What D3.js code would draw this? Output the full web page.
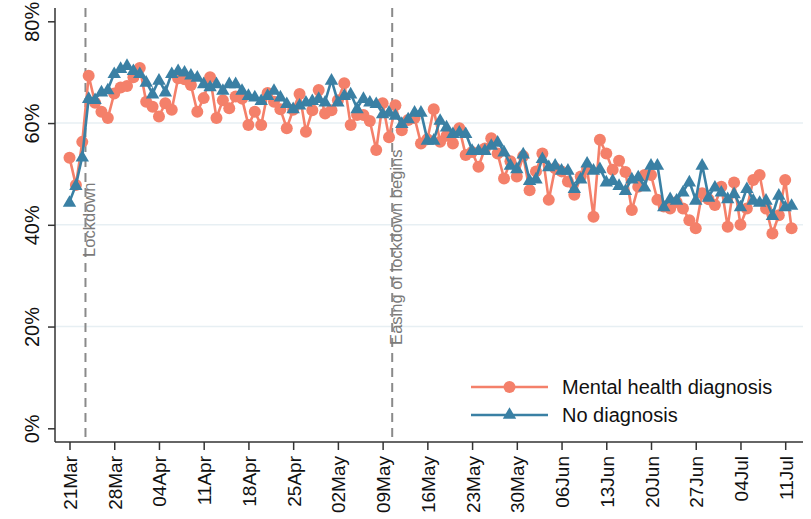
<!DOCTYPE html>
<html>
<head>
<meta charset="utf-8">
<script src="https://cdn.jsdelivr.net/npm/d3@7"></script>
<style>
  body { margin: 0; background: #fff; }
  svg { display: block; font-family: "Liberation Sans", Arial, sans-serif; }
</style>
</head>
<body>
<div id="chart"></div>
<script>
// daily series, starting 21 Mar 2020 (percent)
const startDate = "2020-03-21"
const mentalHealth = [
  53.2, 47.8, 56.3, 69.3, 64.0, 62.2, 61.0, 65.8, 67.0, 67.3,
  69.0, 70.8, 64.2, 63.2, 61.3, 63.9, 62.6, 68.8, 68.6, 67.5,
  62.2, 64.9, 69.0, 61.0, 64.5, 62.9, 65.2, 64.8, 59.6, 62.2,
  59.6, 65.9, 64.2, 62.7, 59.0, 62.6, 65.7, 58.3, 62.5, 66.5,
  61.9, 62.5, 64.5, 67.8, 59.6, 61.6, 61.6, 60.4, 54.7, 63.9,
  57.2, 63.5, 58.6, 60.6, 61.0, 56.0, 56.8, 62.7, 56.3, 57.5,
  56.0, 59.0, 53.7, 54.3, 51.4, 55.0, 57.0, 54.0, 49.1, 52.5,
  49.5, 53.5, 46.8, 50.5, 54.0, 44.9, 51.1, 50.5, 48.5, 45.9,
  49.5, 51.0, 41.6, 56.7, 54.0, 50.8, 52.6, 50.4, 42.9, 47.5,
  49.8, 49.8, 44.9, 43.6, 43.2, 44.5, 43.2, 40.9, 39.3, 46.2,
  45.0, 43.9, 47.5, 39.6, 48.3, 40.0, 43.2, 48.8, 49.8, 43.2,
  38.3, 41.9, 48.8, 39.3
]
const noDiagnosis = [
  44.5, 47.8, 53.4, 64.9, 64.7, 66.2, 66.6, 69.8, 70.8, 71.4,
  70.4, 69.8, 68.1, 65.8, 68.5, 66.2, 69.8, 70.4, 70.1, 69.5,
  69.1, 67.8, 67.2, 67.8, 66.5, 67.8, 67.8, 66.5, 65.5, 65.2,
  64.5, 65.5, 66.5, 65.2, 63.9, 62.9, 63.6, 64.2, 64.5, 64.9,
  64.2, 68.5, 64.2, 65.5, 65.8, 62.9, 64.9, 64.2, 63.9, 61.9,
  62.2, 61.6, 60.0, 60.9, 62.2, 62.2, 56.7, 56.7, 60.6, 59.3,
  58.0, 58.3, 58.0, 54.7, 54.7, 54.7, 55.7, 56.3, 54.4, 51.8,
  51.1, 54.0, 48.8, 49.1, 53.1, 51.5, 51.8, 50.8, 50.8, 47.2,
  49.1, 52.2, 50.8, 51.1, 48.5, 48.8, 47.8, 46.8, 49.1, 49.5,
  47.5, 51.8, 51.8, 43.6, 45.2, 44.9, 46.5, 48.5, 44.9, 51.8,
  45.5, 47.5, 46.5, 45.2, 46.2, 43.6, 47.2, 44.9, 44.5, 44.9,
  41.9, 45.9, 43.6, 43.9
]
const tickLabels = ["21Mar", "28Mar", "04Apr", "11Apr", "18Apr", "25Apr", "02May", "09May",
  "16May", "23May", "30May", "06Jun", "13Jun", "20Jun", "27Jun", "04Jul", "11Jul"]
const yTicks = [0, 20, 40, 60, 80]
const gridTicks = [20, 40, 60]
const events = [
  { date: "2020-03-23T12:00", label: "Lockdown", top: 48.3 },
  { date: "2020-05-10T12:00", label: "Easing of lockdown begins", top: 54.8 }
]
const seriesNames = ["Mental health diagnosis", "No diagnosis"]

const width = 811
const height = 519
const orange = "#f4806a"
const blue = "#3a80a4"

const parseDay = d3.timeParse("%Y-%m-%d")
const parseTick = d3.timeParse("%d%b%Y")
const parseEvent = d3.timeParse("%Y-%m-%dT%H:%M")
const day0 = parseDay(startDate)
const dates = mentalHealth.map((_, i) => d3.timeDay.offset(day0, i))

const svg = d3.select("#chart").append("svg")
    .attr("width", width)
    .attr("height", height)

// 21Mar sits at 69.5px, 11Jul at 785px
const xScale = d3.scaleTime()
    .domain([d3.timeDay.offset(day0, 0), d3.timeDay.offset(day0, 112)])
    .range([69.5, 785.2])
const yScale = d3.scaleLinear()
    .domain([0, 80])
    .range([428.3, 21.3])

const plot = { left: 55, right: 803, top: 8, bottom: 442 }

// grid
svg.append("g")
    .selectAll("line")
    .data(gridTicks)
    .join("line")
    .attr("x1", plot.left)
    .attr("x2", plot.right)
    .attr("y1", d => yScale(d))
    .attr("y2", d => yScale(d))
    .attr("stroke", "#e7eff3")
    .attr("stroke-width", 1.5)

// event lines
const ev = svg.append("g")
events.forEach(e => {
    const x = xScale(parseEvent(e.date))
    ev.append("line")
        .attr("x1", x).attr("x2", x)
        .attr("y1", plot.top).attr("y2", plot.bottom)
        .attr("stroke", "#8a8a8a")
        .attr("stroke-width", 2)
        .attr("stroke-dasharray", "9,6")
    ev.append("text")
        .attr("transform", `translate(${x + 10},${yScale(e.top)}) rotate(-90)`)
        .attr("text-anchor", "end")
        .attr("font-size", 16.5)
        .attr("fill", "#7a7a7a")
        .text(e.label)
})

// axes
const leftAxis = d3.axisLeft(yScale)
    .tickValues(yTicks)
    .tickFormat(d => d + "%")
    .tickSize(7)
    .tickSizeOuter(0)

const leftG = svg.append("g")
    .attr("transform", `translate(${plot.left},0)`)
    .call(leftAxis)
leftG.select(".domain").remove()
leftG.selectAll(".tick line").attr("stroke", "#333").attr("stroke-width", 1.5)
leftG.selectAll(".tick text")
    .attr("font-size", 20)
    .attr("fill", "#111")
    .attr("text-anchor", "middle")
    .attr("x", null).attr("dy", null)
    .attr("transform", "translate(-16,0) rotate(-90)")

svg.append("line")
    .attr("x1", plot.left).attr("x2", plot.left)
    .attr("y1", plot.top).attr("y2", plot.bottom)
    .attr("stroke", "#333").attr("stroke-width", 1.5)

const tickDates = tickLabels.map(t => parseTick(t + "2020"))
const bottomAxis = d3.axisBottom(xScale)
    .tickValues(tickDates)
    .tickFormat(d3.timeFormat("%d%b"))
    .tickSize(8)
    .tickSizeOuter(0)

const bottomG = svg.append("g")
    .attr("transform", `translate(0,${plot.bottom})`)
    .call(bottomAxis)
bottomG.select(".domain").remove()
bottomG.selectAll(".tick line").attr("stroke", "#333").attr("stroke-width", 1.5)
bottomG.selectAll(".tick text")
    .attr("font-size", 19)
    .attr("fill", "#111")
    .attr("text-anchor", "end")
    .attr("y", null).attr("dy", null)
    .attr("transform", "translate(7,14) rotate(-90)")

svg.append("line")
    .attr("x1", plot.left).attr("x2", plot.right)
    .attr("y1", plot.bottom).attr("y2", plot.bottom)
    .attr("stroke", "#333").attr("stroke-width", 1.5)

// series
const line = d3.line()
    .x((d, i) => xScale(dates[i]))
    .y(d => yScale(d))

const triangle = d3.symbol().type(d3.symbolTriangle).size(78)

svg.append("path")
    .datum(mentalHealth)
    .attr("d", line)
    .attr("fill", "none")
    .attr("stroke", orange)
    .attr("stroke-width", 2.6)

svg.append("g")
    .selectAll("circle")
    .data(mentalHealth)
    .join("circle")
    .attr("cx", (d, i) => xScale(dates[i]))
    .attr("cy", d => yScale(d))
    .attr("r", 6)
    .attr("fill", orange)

svg.append("path")
    .datum(noDiagnosis)
    .attr("d", line)
    .attr("fill", "none")
    .attr("stroke", blue)
    .attr("stroke-width", 2.6)

svg.append("g")
    .selectAll("path")
    .data(noDiagnosis)
    .join("path")
    .attr("d", triangle)
    .attr("transform", (d, i) => `translate(${xScale(dates[i])},${yScale(d) + 1})`)
    .attr("fill", blue)

// legend
const legend = svg.append("g")
const legendRows = [
    { name: seriesNames[0], color: orange, y: 387, marker: "circle" },
    { name: seriesNames[1], color: blue, y: 415, marker: "triangle" }
]
legendRows.forEach(r => {
    legend.append("line")
        .attr("x1", 471).attr("x2", 548)
        .attr("y1", r.y).attr("y2", r.y)
        .attr("stroke", r.color)
        .attr("stroke-width", 2.6)
    if (r.marker === "circle") {
        legend.append("circle")
            .attr("cx", 509.5).attr("cy", r.y).attr("r", 6)
            .attr("fill", r.color)
    } else {
        legend.append("path")
            .attr("d", triangle)
            .attr("transform", `translate(509.5,${r.y})`)
            .attr("fill", r.color)
    }
    legend.append("text")
        .attr("x", 562)
        .attr("y", r.y)
        .attr("dy", "0.36em")
        .attr("font-size", 20)
        .attr("fill", "#111")
        .text(r.name)
})
</script>
</body>
</html>
